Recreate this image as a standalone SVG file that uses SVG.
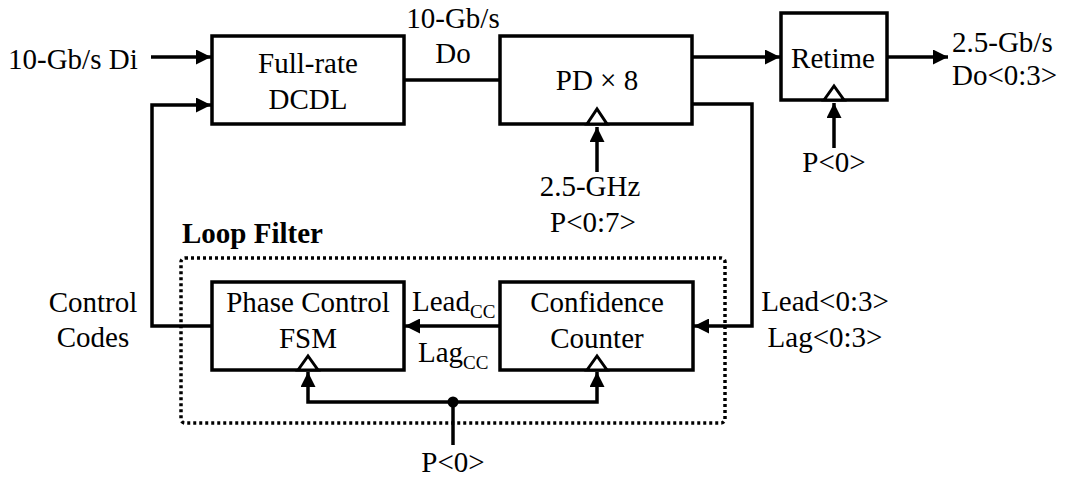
<svg xmlns="http://www.w3.org/2000/svg" width="1066" height="478" viewBox="0 0 1066 478" font-family="'Liberation Serif', 'Times New Roman', 'DejaVu Serif', serif">
  <style>
    text { font-family: 'Liberation Serif', 'Times New Roman', 'DejaVu Serif', serif; font-size: 29px; fill: #000; }
    .mid { text-anchor: middle; }
    .bold { font-weight: bold; }
    .sub { font-size: 19px; }
    .box { fill: #fff; stroke: #000; stroke-width: 3.5; }
    .clk { fill: #fff; stroke: #000; stroke-width: 3; stroke-linejoin: miter; }
    .wire { fill: none; stroke: #000; stroke-width: 3.5; stroke-linejoin: miter; }
    .arrow { marker-end: url(#head); }
    .group { fill: none; stroke: #000; stroke-width: 3.5; stroke-dasharray: 3 3; }
  </style>
  <defs>
    <marker id="head" markerUnits="userSpaceOnUse" markerWidth="16" markerHeight="15" refX="15" refY="7.5" orient="auto">
      <path d="M0,0 L15,7.5 L0,15 Z" fill="#000"/>
    </marker>
  </defs>

  <rect width="1066" height="478" fill="#fff"/>

  <!-- loop filter boundary -->
  <g id="loop-filter">
    <rect class="group" x="181" y="258" width="544" height="165" rx="4"/>
    <text class="bold" x="182" y="243">Loop Filter</text>
  </g>

  <!-- connectors -->
  <g id="connectors">
    <!-- data input -->
    <line class="wire arrow" x1="151" y1="57" x2="211" y2="57"/>
    <!-- control codes back to the delay line -->
    <polyline class="wire arrow" points="212,326 152,326 152,105 211,105"/>
    <!-- delay line to phase detectors -->
    <line class="wire" x1="404" y1="80" x2="500" y2="80"/>
    <!-- phase detectors to retimer -->
    <line class="wire arrow" x1="692" y1="57" x2="780" y2="57"/>
    <!-- retimer output -->
    <line class="wire arrow" x1="887" y1="57" x2="948" y2="57"/>
    <!-- lead / lag to confidence counter -->
    <polyline class="wire arrow" points="692,104 752,104 752,326 694,326"/>
    <!-- counter to FSM -->
    <line class="wire arrow" x1="500" y1="326" x2="405" y2="326"/>
    <!-- clocks -->
    <line class="wire arrow" x1="597" y1="172" x2="597" y2="127"/>
    <line class="wire arrow" x1="834" y1="148" x2="834" y2="103"/>
    <line class="wire" x1="453" y1="445" x2="453" y2="402"/>
    <polyline class="wire arrow" points="453,402 308,402 308,372"/>
    <polyline class="wire arrow" points="453,402 597,402 597,372"/>
    <circle cx="453" cy="402" r="5.5" fill="#000"/>
  </g>

  <g id="dcdl">
    <rect class="box" x="212" y="36" width="192" height="88"/>
    <text class="mid" x="308" y="73">Full-rate</text>
    <text class="mid" x="308" y="109">DCDL</text>
  </g>

  <g id="pd">
    <rect class="box" x="500" y="36" width="192" height="88"/>
    <polygon class="clk" points="587,124 597,109 607,124"/>
    <text class="mid" x="597" y="90">PD × 8</text>
  </g>

  <g id="retime">
    <rect class="box" x="781" y="13" width="106" height="87"/>
    <polygon class="clk" points="824,100 834,86 844,100"/>
    <text class="mid" x="833" y="68">Retime</text>
  </g>

  <g id="fsm">
    <rect class="box" x="212" y="282" width="192" height="88"/>
    <polygon class="clk" points="298,370 308,356 318,370"/>
    <text class="mid" x="308" y="312">Phase Control</text>
    <text class="mid" x="308" y="348">FSM</text>
  </g>

  <g id="counter">
    <rect class="box" x="500" y="282" width="193" height="88"/>
    <polygon class="clk" points="587,370 597,356 607,370"/>
    <text class="mid" x="597" y="312">Confidence</text>
    <text class="mid" x="597" y="348">Counter</text>
  </g>

  <!-- signal labels -->
  <g id="labels">
    <text x="8" y="69">10-Gb/s Di</text>
    <text class="mid" x="453" y="28">10-Gb/s</text>
    <text class="mid" x="453" y="63">Do</text>
    <text x="952" y="52">2.5-Gb/s</text>
    <text x="952" y="85">Do&lt;0:3&gt;</text>
    <text class="mid" x="590" y="196">2.5-GHz</text>
    <text class="mid" x="593" y="232">P&lt;0:7&gt;</text>
    <text class="mid" x="834" y="172">P&lt;0&gt;</text>
    <text class="mid" x="93" y="312">Control</text>
    <text class="mid" x="93" y="347">Codes</text>
    <text x="412" y="311">Lead<tspan class="sub" dy="7">CC</tspan></text>
    <text x="418" y="362">Lag<tspan class="sub" dy="7">CC</tspan></text>
    <text class="mid" x="825" y="311">Lead&lt;0:3&gt;</text>
    <text class="mid" x="825" y="347">Lag&lt;0:3&gt;</text>
    <text class="mid" x="453" y="472">P&lt;0&gt;</text>
  </g>
</svg>
